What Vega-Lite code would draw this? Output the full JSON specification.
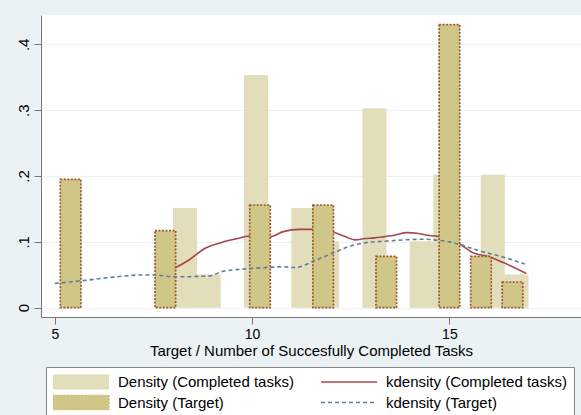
{
  "$schema": "https://vega.github.io/schema/vega-lite/v6.json",
  "width": 540,
  "height": 302,
  "autosize": {"type": "none"},
  "padding": {"left": 41, "top": 15, "right": 0, "bottom": 98},
  "background": "#EAF2F3",
  "config": {
    "view": {"fill": "white", "stroke": null},
    "font": "Liberation Sans"
  },
  "datasets": {
    "completed": [
      {"series": "Density (Completed tasks)", "x": 8.3, "y": 0.1515},
      {"series": "Density (Completed tasks)", "x": 8.9, "y": 0.0505},
      {"series": "Density (Completed tasks)", "x": 10.1, "y": 0.3535},
      {"series": "Density (Completed tasks)", "x": 11.3, "y": 0.1515},
      {"series": "Density (Completed tasks)", "x": 11.9, "y": 0.101},
      {"series": "Density (Completed tasks)", "x": 13.1, "y": 0.303},
      {"series": "Density (Completed tasks)", "x": 14.3, "y": 0.101},
      {"series": "Density (Completed tasks)", "x": 14.9, "y": 0.202},
      {"series": "Density (Completed tasks)", "x": 16.1, "y": 0.202},
      {"series": "Density (Completed tasks)", "x": 16.7, "y": 0.0505}
    ],
    "target": [
      {"series": "Density (Target)", "x": 5.4, "y": 0.195},
      {"series": "Density (Target)", "x": 7.8, "y": 0.117},
      {"series": "Density (Target)", "x": 10.2, "y": 0.156},
      {"series": "Density (Target)", "x": 11.8, "y": 0.156},
      {"series": "Density (Target)", "x": 13.4, "y": 0.078},
      {"series": "Density (Target)", "x": 15.0, "y": 0.43},
      {"series": "Density (Target)", "x": 15.8, "y": 0.078},
      {"series": "Density (Target)", "x": 16.6, "y": 0.039}
    ],
    "kd_completed": [
      {"series": "kdensity (Completed tasks)", "x": 8.0, "y": 0.059},
      {"series": "kdensity (Completed tasks)", "x": 8.39, "y": 0.072},
      {"series": "kdensity (Completed tasks)", "x": 8.8, "y": 0.09},
      {"series": "kdensity (Completed tasks)", "x": 9.22, "y": 0.099},
      {"series": "kdensity (Completed tasks)", "x": 9.63, "y": 0.105},
      {"series": "kdensity (Completed tasks)", "x": 9.92, "y": 0.109},
      {"series": "kdensity (Completed tasks)", "x": 10.2, "y": 0.109},
      {"series": "kdensity (Completed tasks)", "x": 10.46, "y": 0.108},
      {"series": "kdensity (Completed tasks)", "x": 10.79, "y": 0.1155},
      {"series": "kdensity (Completed tasks)", "x": 11.2, "y": 0.119},
      {"series": "kdensity (Completed tasks)", "x": 11.53, "y": 0.119},
      {"series": "kdensity (Completed tasks)", "x": 11.8, "y": 0.119},
      {"series": "kdensity (Completed tasks)", "x": 12.03, "y": 0.1155},
      {"series": "kdensity (Completed tasks)", "x": 12.36, "y": 0.108},
      {"series": "kdensity (Completed tasks)", "x": 12.61, "y": 0.103},
      {"series": "kdensity (Completed tasks)", "x": 12.86, "y": 0.105},
      {"series": "kdensity (Completed tasks)", "x": 13.1, "y": 0.106},
      {"series": "kdensity (Completed tasks)", "x": 13.36, "y": 0.108},
      {"series": "kdensity (Completed tasks)", "x": 13.6, "y": 0.11},
      {"series": "kdensity (Completed tasks)", "x": 13.93, "y": 0.114},
      {"series": "kdensity (Completed tasks)", "x": 14.18, "y": 0.113},
      {"series": "kdensity (Completed tasks)", "x": 14.43, "y": 0.11},
      {"series": "kdensity (Completed tasks)", "x": 14.72, "y": 0.108},
      {"series": "kdensity (Completed tasks)", "x": 15.0, "y": 0.103},
      {"series": "kdensity (Completed tasks)", "x": 15.22, "y": 0.098},
      {"series": "kdensity (Completed tasks)", "x": 15.63, "y": 0.0826},
      {"series": "kdensity (Completed tasks)", "x": 16.0, "y": 0.0775},
      {"series": "kdensity (Completed tasks)", "x": 16.41, "y": 0.0674},
      {"series": "kdensity (Completed tasks)", "x": 16.95, "y": 0.052}
    ],
    "kd_target": [
      {"series": "kdensity (Target)", "x": 5.0, "y": 0.037},
      {"series": "kdensity (Target)", "x": 5.62, "y": 0.0405},
      {"series": "kdensity (Target)", "x": 6.41, "y": 0.046},
      {"series": "kdensity (Target)", "x": 7.23, "y": 0.0497},
      {"series": "kdensity (Target)", "x": 7.56, "y": 0.0497},
      {"series": "kdensity (Target)", "x": 7.8, "y": 0.048},
      {"series": "kdensity (Target)", "x": 8.14, "y": 0.047},
      {"series": "kdensity (Target)", "x": 8.6, "y": 0.0475},
      {"series": "kdensity (Target)", "x": 8.97, "y": 0.0486},
      {"series": "kdensity (Target)", "x": 9.22, "y": 0.0547},
      {"series": "kdensity (Target)", "x": 9.8, "y": 0.0588},
      {"series": "kdensity (Target)", "x": 10.46, "y": 0.0613},
      {"series": "kdensity (Target)", "x": 10.79, "y": 0.0623},
      {"series": "kdensity (Target)", "x": 11.04, "y": 0.061},
      {"series": "kdensity (Target)", "x": 11.2, "y": 0.062},
      {"series": "kdensity (Target)", "x": 11.53, "y": 0.07},
      {"series": "kdensity (Target)", "x": 12.03, "y": 0.0826},
      {"series": "kdensity (Target)", "x": 12.44, "y": 0.0926},
      {"series": "kdensity (Target)", "x": 12.86, "y": 0.0987},
      {"series": "kdensity (Target)", "x": 13.36, "y": 0.101},
      {"series": "kdensity (Target)", "x": 13.85, "y": 0.103},
      {"series": "kdensity (Target)", "x": 14.43, "y": 0.104},
      {"series": "kdensity (Target)", "x": 14.6, "y": 0.103},
      {"series": "kdensity (Target)", "x": 15.0, "y": 0.1},
      {"series": "kdensity (Target)", "x": 15.26, "y": 0.096},
      {"series": "kdensity (Target)", "x": 15.84, "y": 0.085},
      {"series": "kdensity (Target)", "x": 16.33, "y": 0.0775},
      {"series": "kdensity (Target)", "x": 16.91, "y": 0.0664}
    ]
  },
  "encoding": {
    "x": {
      "field": "x",
      "type": "quantitative",
      "scale": {"domain": [4.776, 18.209], "nice": false, "zero": false},
      "axis": {
        "values": [5, 10, 15],
        "title": "Target / Number of Succesfully Completed Tasks",
        "titleFontSize": 15,
        "titleFontWeight": "normal",
        "titleColor": "black",
        "titleBaseline": "alphabetic",
        "titleY": 38,
        "labelFontSize": 14,
        "labelColor": "black",
        "labelPadding": 3,
        "tickSize": 7,
        "tickColor": "#777",
        "domainColor": "#777",
        "grid": false
      }
    },
    "y": {
      "field": "y",
      "type": "quantitative",
      "scale": {"domain": [-0.01412, 0.4445], "nice": false, "zero": false},
      "axis": {
        "values": [0, 0.1, 0.2, 0.3, 0.4],
        "labelExpr": "datum.value == 0 ? '0' : replace(format(datum.value, '.1f'), '0.', '.')",
        "title": null,
        "labelAngle": -90,
        "labelAlign": "center",
        "labelBaseline": "alphabetic",
        "labelPadding": 6,
        "labelFontSize": 15,
        "labelColor": "black",
        "tickSize": 7,
        "tickColor": "#777",
        "domainColor": "#777",
        "grid": true,
        "gridColor": "#EAF2F3",
        "gridWidth": 1.2
      }
    },
    "color": {
      "field": "series",
      "type": "nominal",
      "scale": {
        "domain": ["Density (Completed tasks)", "kdensity (Completed tasks)", "Density (Target)", "kdensity (Target)"],
        "range": ["#E2DEBC", "#A5474F", "#D0C687", "#5E7E96"]
      },
      "legend": {
        "orient": "none",
        "legendX": 5,
        "legendY": 352,
        "title": null,
        "columns": 2,
        "direction": "horizontal",
        "columnPadding": 27,
        "rowPadding": 4.5,
        "padding": 7,
        "strokeColor": "#888",
        "fillColor": "white",
        "symbolSize": 3136,
        "symbolType": "M-1,-0.27H1V0.27H-1Z",
        "clipHeight": 16,
        "labelFontSize": 15,
        "labelLimit": 320,
        "labelOffset": 9,
        "labelColor": "black",
        "encode": {
          "symbols": {
            "update": {
              "x": {"value": 28},
              "shape": {"signal": "indexof(datum.value, 'kdensity') === 0 ? 'stroke' : 'M-1,-0.27H1V0.27H-1Z'"},
              "fill": {"signal": "datum.value === 'Density (Completed tasks)' ? '#E2DEBC' : (datum.value === 'Density (Target)' ? '#D0C687' : 'transparent')"},
              "stroke": {"signal": "datum.value === 'Density (Target)' ? '#9A5A2C' : (datum.value === 'kdensity (Completed tasks)' ? '#A5474F' : (datum.value === 'kdensity (Target)' ? '#5E7E96' : 'transparent'))"},
              "strokeDash": {"signal": "datum.value === 'Density (Target)' ? [2, 1.5] : (datum.value === 'kdensity (Target)' ? [4, 3] : [1, 0])"},
              "strokeWidth": {"signal": "datum.value === 'Density (Completed tasks)' ? 0 : 1.6"},
              "size": {"value": 3136},
              "opacity": {"value": 1}
            }
          },
          "labels": {
            "update": {
              "x": {"value": 65}
            }
          }
        }
      }
    }
  },
  "layer": [
    {
      "data": {"name": "completed"},
      "mark": {"type": "bar", "size": 24.1},
      "encoding": {"y2": {"datum": 0}}
    },
    {
      "data": {"name": "kd_completed"},
      "mark": {"type": "line", "interpolate": "monotone", "strokeWidth": 1.6}
    },
    {
      "data": {"name": "target"},
      "mark": {"type": "bar", "size": 20.6, "stroke": "#9A5A2C", "strokeWidth": 1.7, "strokeDash": [2, 1.5]},
      "encoding": {"y2": {"datum": 0}}
    },
    {
      "data": {"name": "kd_target"},
      "mark": {"type": "line", "interpolate": "monotone", "strokeWidth": 1.6, "strokeDash": [4, 3]}
    }
  ]
}
